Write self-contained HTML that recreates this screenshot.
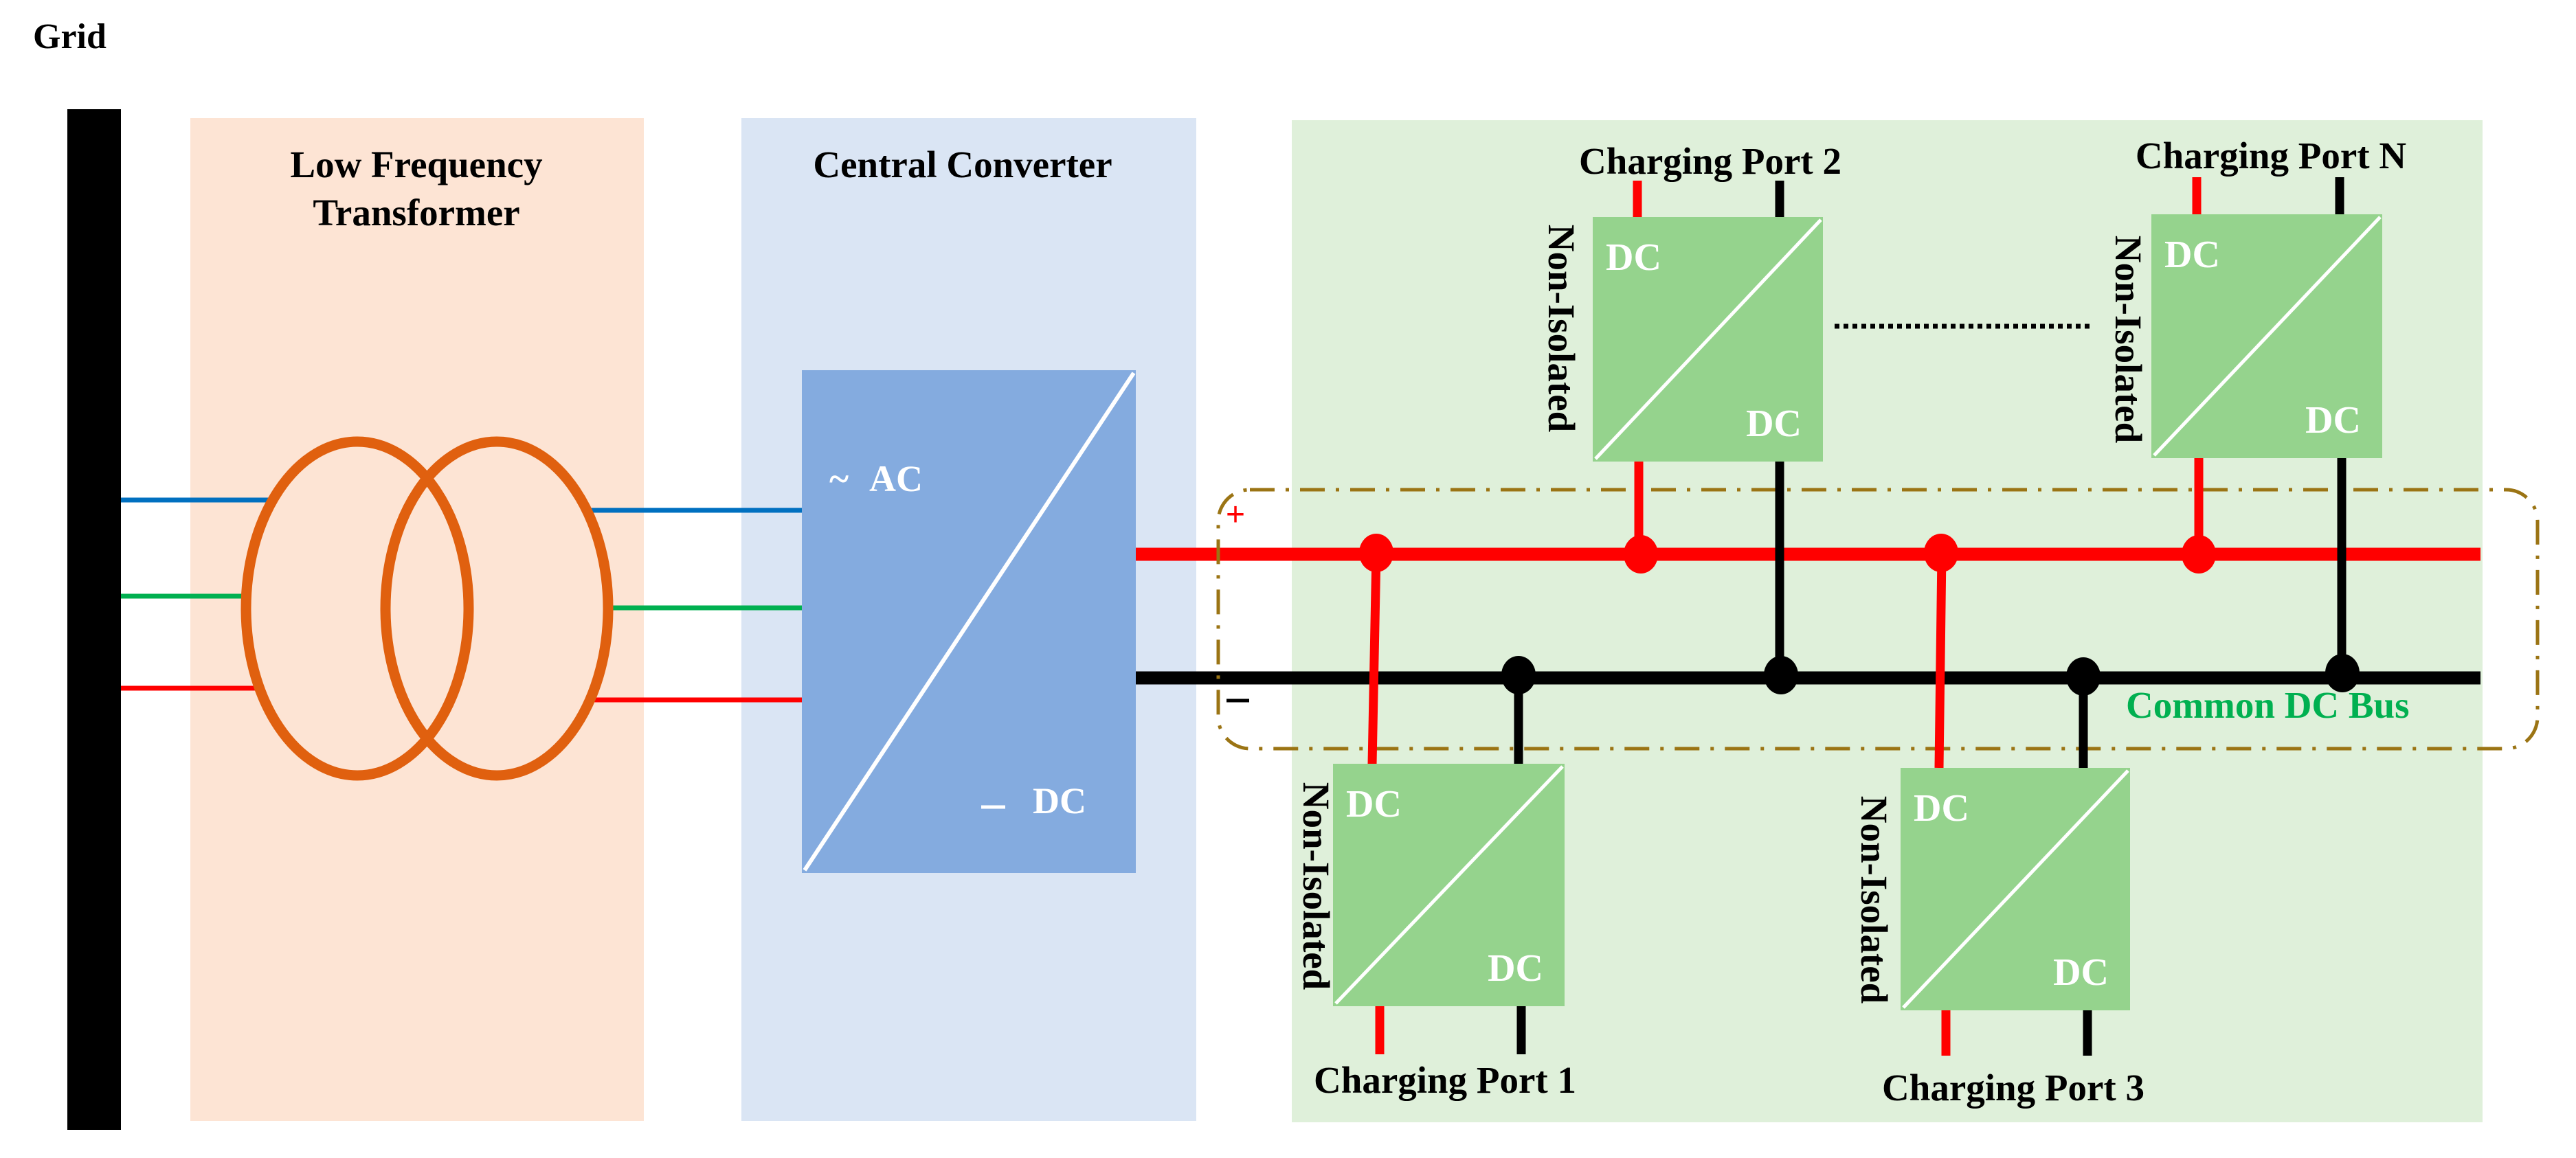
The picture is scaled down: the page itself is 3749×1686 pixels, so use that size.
<!DOCTYPE html>
<html><head><meta charset="utf-8"><style>
html,body{margin:0;padding:0;background:#fff;}
svg{display:block;}
text{font-family:"Liberation Serif",serif;font-weight:bold;}
</style></head><body>
<svg width="3749" height="1686" viewBox="0 0 3749 1686" xmlns="http://www.w3.org/2000/svg">
<rect width="3749" height="1686" fill="#fff"/>
<text x="48" y="70" font-size="52" fill="#000">Grid</text>
<rect x="98" y="159" width="78" height="1486" fill="#000"/>
<!-- panels -->
<rect x="277" y="172" width="660" height="1460" fill="#fde4d4"/>
<rect x="1079" y="172" width="662" height="1460" fill="#dae5f4"/>
<rect x="1880" y="175" width="1733" height="1459" fill="#dff0da"/>
<text x="606" y="258" font-size="55" text-anchor="middle">Low Frequency</text>
<text x="606" y="328" font-size="55" text-anchor="middle">Transformer</text>
<text x="1401" y="258" font-size="55" text-anchor="middle">Central Converter</text>
<!-- AC lines -->
<line x1="176" y1="728" x2="395" y2="728" stroke="#0070c0" stroke-width="7"/>
<line x1="176" y1="868" x2="358" y2="868" stroke="#00b050" stroke-width="7"/>
<line x1="176" y1="1002" x2="372" y2="1002" stroke="#ff0000" stroke-width="7"/>
<line x1="852" y1="743" x2="1169" y2="743" stroke="#0070c0" stroke-width="7"/>
<line x1="885" y1="885" x2="1169" y2="885" stroke="#00b050" stroke-width="7"/>
<line x1="862" y1="1019" x2="1169" y2="1019" stroke="#ff0000" stroke-width="7"/>
<ellipse cx="520" cy="886" rx="162" ry="243" fill="none" stroke="#e0600f" stroke-width="15"/>
<ellipse cx="723" cy="886" rx="162" ry="243" fill="none" stroke="#e0600f" stroke-width="15"/>
<!-- central converter -->
<rect x="1167" y="539" width="486" height="732" fill="#84abdf"/>
<line x1="1171" y1="1267" x2="1650" y2="543" stroke="#fff" stroke-width="6"/>
<text x="1207" y="715" font-size="54" fill="#fff">~</text>
<text x="1265" y="715" font-size="54" fill="#fff">AC</text>
<line x1="1428" y1="1175" x2="1463" y2="1175" stroke="#fff" stroke-width="5"/>
<text x="1503" y="1184" font-size="54" fill="#fff">DC</text>
<!-- DC buses -->
<line x1="1653" y1="807" x2="3610" y2="807" stroke="#ff0000" stroke-width="19"/>
<line x1="1653" y1="987" x2="3610" y2="987" stroke="#000" stroke-width="19"/>
<!-- dash-dot box -->
<rect x="1773" y="713" width="1920" height="377" rx="46" ry="46" fill="none" stroke="#9b7414" stroke-width="5" stroke-dasharray="36 16 5 16"/>
<text x="1784" y="765" font-size="48" fill="#ff0000" font-weight="normal" style="font-family:'Liberation Sans',sans-serif;font-weight:normal">+</text>
<line x1="1785" y1="1020" x2="1818" y2="1020" stroke="#000" stroke-width="5"/>
<text x="3094" y="1045" font-size="55" fill="#00b050">Common DC Bus</text>
<!-- vertical wires -->
<g stroke-width="13">
<line x1="2003" y1="806" x2="1997" y2="1113" stroke="#ff0000"/>
<line x1="2210" y1="986" x2="2210" y2="1113" stroke="#000"/>
<line x1="2826" y1="806" x2="2822" y2="1118" stroke="#ff0000"/>
<line x1="3032" y1="986" x2="3032" y2="1118" stroke="#000"/>
<line x1="2385" y1="672" x2="2385" y2="806" stroke="#ff0000"/>
<line x1="2590" y1="672" x2="2590" y2="986" stroke="#000"/>
<line x1="3200" y1="667" x2="3200" y2="806" stroke="#ff0000"/>
<line x1="3408" y1="667" x2="3408" y2="986" stroke="#000"/>
<!-- leads -->
<line x1="2383" y1="263" x2="2383" y2="316" stroke="#ff0000"/>
<line x1="2590" y1="263" x2="2590" y2="316" stroke="#000"/>
<line x1="3197" y1="258" x2="3197" y2="312" stroke="#ff0000"/>
<line x1="3405" y1="258" x2="3405" y2="312" stroke="#000"/>
<line x1="2008" y1="1465" x2="2008" y2="1535" stroke="#ff0000"/>
<line x1="2214" y1="1465" x2="2214" y2="1535" stroke="#000"/>
<line x1="2832" y1="1471" x2="2832" y2="1537" stroke="#ff0000"/>
<line x1="3038" y1="1471" x2="3038" y2="1537" stroke="#000"/>
</g>
<!-- junctions -->
<g fill="#ff0000">
<ellipse cx="2003" cy="805" rx="25" ry="28"/>
<ellipse cx="2388" cy="807" rx="25" ry="28"/>
<ellipse cx="2825" cy="805" rx="25" ry="28"/>
<ellipse cx="3200" cy="807" rx="25" ry="28"/>
</g>
<g fill="#000">
<ellipse cx="2210" cy="983" rx="25" ry="28"/>
<ellipse cx="2592" cy="983" rx="25" ry="28"/>
<ellipse cx="3032" cy="985" rx="25" ry="28"/>
<ellipse cx="3409" cy="980" rx="25" ry="28"/>
</g>
<!-- dotted -->
<line x1="2670" y1="475" x2="3046" y2="475" stroke="#000" stroke-width="7" stroke-dasharray="7 6"/>
<!-- DC/DC boxes -->
<g>
<rect x="2318" y="316" width="335" height="356" fill="#95d38d"/>
<line x1="2322" y1="668" x2="2650" y2="320" stroke="#fff" stroke-width="5"/>
<text x="2337" y="393" font-size="56" fill="#fff">DC</text>
<text x="2622" y="635" font-size="56" fill="#fff" text-anchor="end">DC</text>
</g>
<g>
<rect x="3131" y="312" width="336" height="355" fill="#95d38d"/>
<line x1="3135" y1="663" x2="3464" y2="316" stroke="#fff" stroke-width="5"/>
<text x="3150" y="389" font-size="56" fill="#fff">DC</text>
<text x="3436" y="630" font-size="56" fill="#fff" text-anchor="end">DC</text>
</g>
<g>
<rect x="1940" y="1112" width="337" height="353" fill="#95d38d"/>
<line x1="1944" y1="1461" x2="2274" y2="1116" stroke="#fff" stroke-width="5"/>
<text x="1959" y="1189" font-size="56" fill="#fff">DC</text>
<text x="2246" y="1428" font-size="56" fill="#fff" text-anchor="end">DC</text>
</g>
<g>
<rect x="2766" y="1118" width="334" height="353" fill="#95d38d"/>
<line x1="2770" y1="1467" x2="3097" y2="1122" stroke="#fff" stroke-width="5"/>
<text x="2785" y="1195" font-size="56" fill="#fff">DC</text>
<text x="3069" y="1434" font-size="56" fill="#fff" text-anchor="end">DC</text>
</g>
<!-- port labels -->
<text x="2489" y="253" font-size="55" text-anchor="middle">Charging Port 2</text>
<text x="3305" y="245" font-size="55" text-anchor="middle">Charging Port N</text>
<text x="2103" y="1591" font-size="55" text-anchor="middle">Charging Port 1</text>
<text x="2930" y="1602" font-size="55" text-anchor="middle">Charging Port 3</text>
<!-- Non-Isolated rotated -->
<text transform="translate(2254,478) rotate(90)" font-size="55" text-anchor="middle">Non-Isolated</text>
<text transform="translate(3079,494) rotate(90)" font-size="55" text-anchor="middle">Non-Isolated</text>
<text transform="translate(1897,1290) rotate(90)" font-size="55" text-anchor="middle">Non-Isolated</text>
<text transform="translate(2709,1310) rotate(90)" font-size="55" text-anchor="middle">Non-Isolated</text>
</svg>
</body></html>
